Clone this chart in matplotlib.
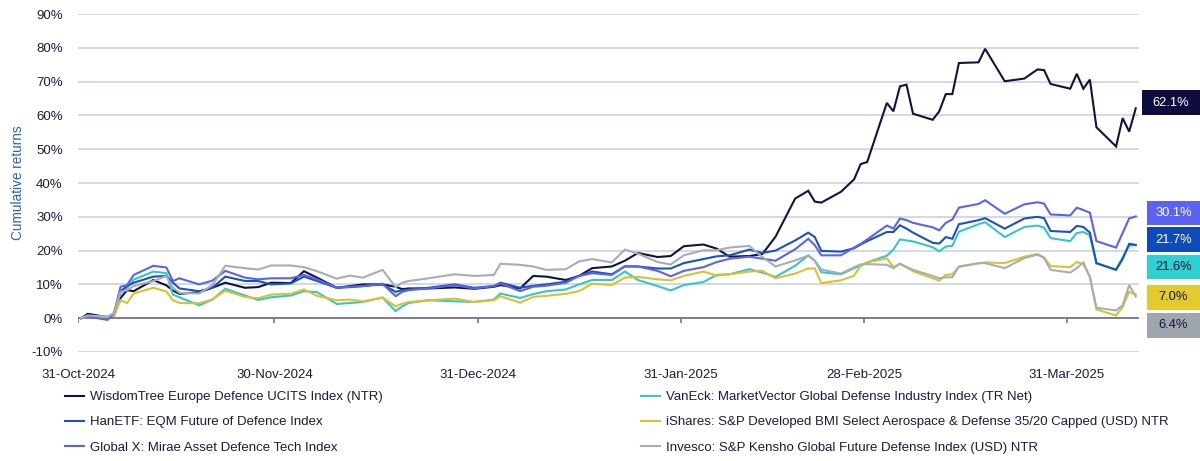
import numpy as np
import pandas as pd
import matplotlib
matplotlib.use("Agg")
from matplotlib import pyplot as plt
from matplotlib import dates as mdates
from matplotlib import transforms
from matplotlib.patches import Rectangle

plt.rcParams['font.family'] = ['Liberation Sans', 'DejaVu Sans']

# ---- data (cumulative returns in %) ----
dates = [
    "2024-10-31", "2024-11-01", "2024-11-04", "2024-11-05", "2024-11-06", "2024-11-07",
    "2024-11-08", "2024-11-11", "2024-11-13", "2024-11-14", "2024-11-15", "2024-11-18",
    "2024-11-20", "2024-11-22", "2024-11-25", "2024-11-27", "2024-11-29", "2024-12-02",
    "2024-12-04", "2024-12-06", "2024-12-09", "2024-12-11", "2024-12-13", "2024-12-16",
    "2024-12-18", "2024-12-19", "2024-12-20", "2024-12-23", "2024-12-27", "2024-12-30",
    "2025-01-02", "2025-01-03", "2025-01-06", "2025-01-08", "2025-01-10", "2025-01-13",
    "2025-01-15", "2025-01-17", "2025-01-20", "2025-01-22", "2025-01-24", "2025-01-27",
    "2025-01-29", "2025-01-31", "2025-02-03", "2025-02-05", "2025-02-07", "2025-02-10",
    "2025-02-12", "2025-02-14", "2025-02-17", "2025-02-19", "2025-02-20", "2025-02-21",
    "2025-02-24", "2025-02-26", "2025-02-27", "2025-02-28", "2025-03-03", "2025-03-04",
    "2025-03-05", "2025-03-06", "2025-03-07", "2025-03-10", "2025-03-11", "2025-03-12",
    "2025-03-13", "2025-03-14", "2025-03-17", "2025-03-18", "2025-03-21", "2025-03-24",
    "2025-03-26", "2025-03-27", "2025-03-28", "2025-03-31", "2025-04-01", "2025-04-02",
    "2025-04-03", "2025-04-04", "2025-04-07", "2025-04-08", "2025-04-09", "2025-04-10",
]

wisdomtree = [
    0.0, 1.3, 0.3, 0.8, 6.0, 8.3, 8.0, 11.3, 9.7, 8.2, 7.2, 7.7,
    9.0, 10.5, 9.0, 9.2, 10.5, 10.4, 13.9, 12.0, 9.0, 9.5, 10.0, 10.0,
    9.3, 8.6, 8.8, 8.8, 9.1, 8.7, 9.3, 9.8, 8.8, 12.5, 12.3, 11.3,
    12.5, 14.8, 15.3, 17.0, 19.3, 18.1, 18.4, 21.3, 21.8, 20.6, 18.2, 18.4,
    19.0, 24.1, 35.4, 37.7, 34.5, 34.2, 37.4, 41.1, 45.6, 46.2, 63.7, 61.2,
    68.6, 69.1, 60.5, 58.7, 61.2, 66.3, 66.3, 75.5, 75.7, 79.7, 70.1, 70.9,
    73.6, 73.4, 69.3, 67.9, 72.3, 67.9, 70.6, 56.5, 50.8, 59.2, 55.2, 62.1,
]
hanetf = [
    0.0, 0.8, 0.2, 1.5, 8.0, 9.5, 10.5, 12.3, 12.5, 10.5, 8.8, 8.0,
    9.0, 12.3, 11.0, 11.0, 10.0, 10.3, 12.3, 11.0, 9.0, 9.2, 9.5, 10.0,
    7.8, 8.3, 8.5, 9.0, 10.0, 9.0, 9.5, 10.5, 9.0, 9.6, 10.0, 10.8,
    12.5, 13.8, 13.0, 15.3, 15.3, 14.7, 14.7, 16.3, 17.5, 18.3, 18.6, 20.3,
    19.3, 20.0, 23.0, 25.3, 24.0, 19.9, 19.7, 20.7, 21.8, 22.8, 25.5, 25.5,
    27.5, 26.5, 25.3, 22.3, 22.1, 24.0, 23.5, 27.8, 29.0, 29.6, 26.5, 29.5,
    30.0, 29.6, 25.8, 25.5, 27.3, 27.0, 25.3, 16.3, 14.3, 17.5, 22.0, 21.7,
]
global_x = [
    0.0, 0.5, -0.5, 1.5, 9.3, 9.8, 12.8, 15.5, 15.0, 11.0, 11.8, 10.0,
    11.1, 14.0, 12.0, 11.5, 11.8, 11.8, 12.8, 11.5, 9.0, 9.3, 9.5, 10.2,
    6.5, 7.8, 8.3, 8.8, 9.8, 8.8, 9.5, 10.3, 8.0, 9.3, 9.6, 10.5,
    12.5, 13.3, 12.8, 15.4, 15.3, 14.0, 12.4, 14.0, 15.1, 16.6, 17.6, 18.2,
    17.6, 17.0, 20.4, 23.5, 21.6, 18.6, 18.6, 20.9, 22.0, 23.3, 27.4, 26.5,
    29.5, 29.0, 28.2, 26.9, 26.0, 28.2, 29.2, 32.7, 33.8, 34.9, 30.9, 33.7,
    34.3, 33.9, 30.7, 30.4, 32.7, 32.0, 31.2, 22.8, 20.9, 25.2, 29.5, 30.1,
]
vaneck = [
    0.0, 0.7, 0.2, 1.2, 7.5, 9.0, 11.4, 13.8, 13.3, 7.0, 6.2, 3.8,
    5.5, 8.7, 6.7, 5.4, 6.2, 6.7, 8.0, 7.7, 4.2, 4.5, 4.8, 6.1,
    2.1, 3.5, 4.5, 5.3, 5.0, 4.8, 5.5, 7.3, 6.0, 7.1, 8.0, 8.5,
    10.0, 11.3, 11.3, 13.8, 11.3, 9.5, 8.2, 9.8, 10.7, 12.8, 13.0, 14.5,
    13.5, 12.2, 15.5, 18.6, 17.0, 13.6, 13.0, 14.8, 15.5, 16.5, 18.5, 20.3,
    23.3, 23.0, 22.7, 21.0, 19.8, 21.2, 21.4, 25.6, 27.8, 28.4, 24.0, 27.0,
    27.4, 26.8, 23.7, 22.8, 25.2, 25.5, 24.5, 16.2, 14.4, 18.0, 21.5, 21.6,
]
ishares = [
    0.0, 0.5, 0.3, 0.8, 5.3, 4.5, 7.3, 9.0, 7.9, 5.3, 4.5, 4.4,
    5.6, 8.1, 6.3, 5.9, 7.0, 7.2, 8.5, 6.6, 5.3, 5.5, 5.0, 6.1,
    3.5, 4.3, 4.8, 5.3, 5.8, 4.8, 5.3, 6.5, 4.6, 6.3, 6.6, 7.2,
    8.0, 10.2, 9.8, 12.0, 12.2, 11.5, 11.2, 12.5, 13.8, 12.6, 13.0, 13.8,
    14.0, 11.8, 13.2, 14.7, 14.7, 10.4, 11.2, 12.6, 15.5, 16.5, 17.7, 15.1,
    16.1, 15.0, 13.9, 11.8, 11.1, 12.8, 13.0, 15.2, 16.2, 16.5, 16.3, 18.2,
    19.0, 18.0, 15.4, 15.1, 16.6, 16.0, 12.3, 2.6, 0.8, 3.3, 7.8, 7.0,
]
invesco = [
    0.0, 0.8, 0.5, 1.5, 7.8, 8.3, 9.5, 11.0, 12.5, 9.0, 7.5, 7.3,
    9.8, 15.5, 14.8, 14.4, 15.6, 15.6, 15.1, 13.9, 11.7, 12.6, 12.0, 14.3,
    9.2, 10.5, 11.0, 11.8, 13.0, 12.5, 12.8, 16.1, 15.8, 15.3, 14.3, 14.5,
    16.8, 17.5, 16.5, 20.3, 19.1, 16.6, 15.9, 18.6, 20.1, 20.1, 20.9, 21.4,
    18.1, 15.3, 17.1, 18.5, 17.0, 14.4, 13.2, 15.1, 15.9, 16.0, 15.8, 14.8,
    16.1, 15.2, 14.3, 12.5, 11.8, 12.1, 12.1, 15.3, 16.3, 16.3, 14.8, 17.8,
    18.8, 17.8, 14.3, 13.5, 14.8, 16.5, 12.1, 3.1, 2.3, 3.8, 9.8, 6.4,
]

names = [
    "WisdomTree Europe Defence UCITS Index (NTR)",
    "VanEck: MarketVector Global Defense Industry Index (TR Net)",
    "HanETF: EQM Future of Defence Index",
    "iShares: S&P Developed BMI Select Aerospace & Defense 35/20 Capped (USD) NTR",
    "Global X: Mirae Asset Defence Tech Index",
    "Invesco: S&P Kensho Global Future Defense Index (USD) NTR",
]
series = [wisdomtree, vaneck, hanetf, ishares, global_x, invesco]
colors = ["#12123f", "#33c6cb", "#1a52bd", "#d9c232", "#5a63ee", "#a7adb5"]
box_colors = ["#0d0c3d", "#2fd0d3", "#0e4bb8", "#e3cb2e", "#5b63f0", "#a0a6ad"]
box_text = ["white", "#15153c", "white", "#15153c", "white", "#15153c"]

navy = "#1b1b3f"

# points sit in the middle of their day, like the source chart
x = pd.to_datetime(dates) + pd.Timedelta(hours=12)

fig = plt.figure(figsize=(12, 4.61), dpi=100)
ax = fig.add_axes([78/1200, 1 - 352/461, (1139 - 78)/1200, (352 - 14)/461])

lines = {}
for name, vals, col in zip(names, series, colors):
    ln, = ax.plot(x, vals, color=col, lw=1.5, solid_joinstyle="miter", zorder=3)
    lines[name] = ln

ax.set_ylim(-10, 90)
ax.set_xlim(pd.Timestamp("2024-10-31"), pd.Timestamp("2025-04-11"))
ax.set_yticks(np.arange(-10, 91, 10))
ax.yaxis.set_major_formatter(plt.FuncFormatter(lambda v, p: f"{v:.0f}%"))

month_ticks = pd.to_datetime(["2024-10-31", "2024-11-30", "2024-12-31",
                              "2025-01-31", "2025-02-28", "2025-03-31"])
ax.set_xticks(month_ticks)
ax.xaxis.set_major_formatter(mdates.DateFormatter("%d-%b-%Y"))

for s in ax.spines.values():
    s.set_visible(False)
ax.grid(axis="y", color="#d2d9e2", lw=1.4, zorder=0)
ax.tick_params(axis="both", length=0, labelsize=9.5, labelcolor=navy)
ax.tick_params(axis="y", pad=11)
ax.tick_params(axis="x", pad=12)

# zero axis with small month ticks
ax.axhline(0, color="#77748f", lw=1.3, zorder=2)
ax.vlines(month_ticks, -1.4, 0, color="#77748f", lw=1.2, zorder=2)

ax.set_ylabel("Cumulative returns", color="#2660c9", fontsize=9.8)
ax.yaxis.set_label_coords(-(78 - 25)/1061, 0.5)

# end-value boxes
label_y = [63.8, 15.1, 23.2, 6.2, 31.1, -2.1]
label_left = [1142, 1147, 1147, 1147, 1147, 1147]
trans = transforms.blended_transform_factory(ax.transAxes, ax.transData)
box_h = 7.3
for vals, yl, xl, bc, tc in zip(series, label_y, label_left, box_colors, box_text):
    x0 = (xl - 78) / 1061
    w = (1200 - xl) / 1061
    ax.add_patch(Rectangle((x0, yl - box_h/2), w, box_h, transform=trans,
                           facecolor=bc, edgecolor="none", clip_on=False, zorder=4))
    ax.text(x0 + w/2, yl, f"{vals[-1]:.1f}%", transform=trans, ha="center", va="center",
            color=tc, fontsize=9.3, zorder=5, clip_on=False)

# legend in two columns
left = [names[0], names[2], names[4]]
right = [names[1], names[3], names[5]]
common = dict(loc="upper left", frameon=False, fontsize=9.5, handlelength=1.45,
              handletextpad=0.45, labelspacing=0.98, borderpad=0, borderaxespad=0,
              labelcolor=navy)
fig.legend([lines[n] for n in left], left, bbox_to_anchor=(65/1200, 1 - 391/461), **common)
fig.legend([lines[n] for n in right], right, bbox_to_anchor=(641/1200, 1 - 391/461), **common)

fig.savefig("out.png", dpi=100)
